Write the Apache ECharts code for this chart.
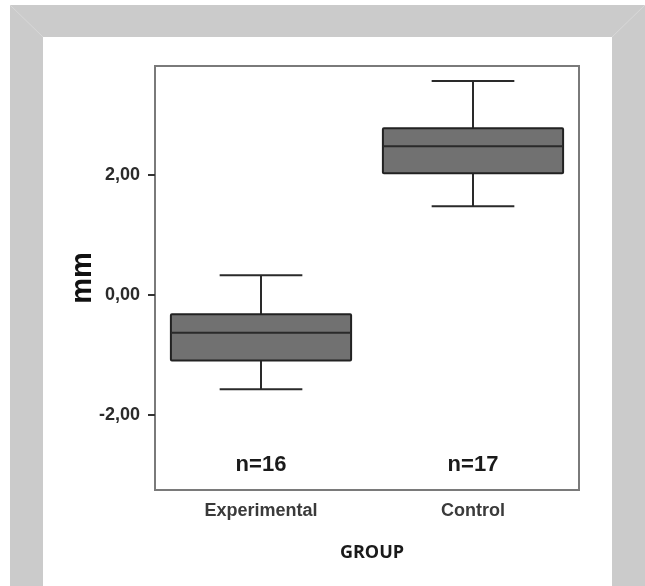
<!DOCTYPE html>
<html>
<head>
<meta charset="utf-8">
<script src="https://cdn.jsdelivr.net/npm/echarts@6/dist/echarts.min.js"></script>
<style>
  html, body { margin: 0; padding: 0; background: #fff; }
  #box-container { width: 645px; height: 586px; }
</style>
</head>
<body>
<div id="box-container"></div>
<script>
// values
const groups = ['Experimental', 'Control'];
const whiskerLow = [-1.57, 1.48];
const quartile1 = [-1.09, 2.03];
const medians = [-0.63, 2.48];
const quartile3 = [-0.32, 2.78];
const whiskerHigh = [0.33, 3.57];
const sampleSizes = ['n=16', 'n=17'];
const yTicks = [-2, 0, 2];

const boxData = groups.map((g, i) => [i, whiskerLow[i], quartile1[i], medians[i], quartile3[i], whiskerHigh[i]]);

const chartDom = document.getElementById('box-container');
const myChart = echarts.init(chartDom, null, { renderer: 'canvas' });

function renderBox(params, api) {
    const i = api.value(0);
    const low = api.coord([i, api.value(1)]);
    const q1 = api.coord([i, api.value(2)]);
    const med = api.coord([i, api.value(3)]);
    const q3 = api.coord([i, api.value(4)]);
    const high = api.coord([i, api.value(5)]);
    const band = api.size([1, 0])[0];
    const boxW = band * 0.85;
    const capW = band * 0.39;
    const cx = med[0];
    const lineStyle = { stroke: '#2a2a2a', lineWidth: 2 };
    const nPos = api.coord([i, -2.84]);
    return {
        type: 'group',
        children: [
            { type: 'line', shape: { x1: cx, y1: q3[1], x2: cx, y2: high[1] }, style: lineStyle },
            { type: 'line', shape: { x1: cx, y1: q1[1], x2: cx, y2: low[1] }, style: lineStyle },
            { type: 'line', shape: { x1: cx - capW / 2, y1: high[1], x2: cx + capW / 2, y2: high[1] }, style: lineStyle },
            { type: 'line', shape: { x1: cx - capW / 2, y1: low[1], x2: cx + capW / 2, y2: low[1] }, style: lineStyle },
            {
                type: 'rect',
                shape: { x: cx - boxW / 2, y: q3[1], width: boxW, height: q1[1] - q3[1], r: 1 },
                style: { fill: '#717171', stroke: '#222', lineWidth: 2 }
            },
            { type: 'line', shape: { x1: cx - boxW / 2, y1: med[1], x2: cx + boxW / 2, y2: med[1] }, style: lineStyle },
            {
                type: 'text',
                x: nPos[0], y: nPos[1],
                style: {
                    text: sampleSizes[i],
                    align: 'center', verticalAlign: 'middle',
                    font: 'bold 22px "Liberation Sans", Arial, sans-serif',
                    fill: '#1a1a1a'
                }
            }
        ]
    };
}

const options = {
    animation: false,
    graphic: [
        { type: 'rect', z: -10, shape: { x: 10, y: 5, width: 640, height: 600 }, style: { fill: '#cbcbcb' } },
        { type: 'rect', z: -9, shape: { x: 43, y: 37, width: 569, height: 560 }, style: { fill: '#ffffff' } },
        { type: 'line', z: -8, shape: { x1: 10, y1: 5, x2: 43, y2: 37 }, style: { stroke: '#d8d8d8', lineWidth: 1 } },
        { type: 'line', z: -8, shape: { x1: 645, y1: 5, x2: 612, y2: 37 }, style: { stroke: '#d8d8d8', lineWidth: 1 } }
    ],
    grid: { // 盒子的位置
        left: 155,
        right: 66,
        top: 66,
        bottom: 96,
        show: true,
        borderColor: '#7a7a7a',
        borderWidth: 2,
        backgroundColor: 'transparent'
    },
    xAxis: {
        type: 'category',
        data: groups,
        name: 'GROUP',
        nameLocation: 'middle',
        nameGap: 54,
        nameMoveOverlap: false,
        nameTextStyle: {
            fontFamily: '"Open Sans", sans-serif',
            fontWeight: 'bold',
            fontSize: 18,
            color: '#1a1a1a',
            padding: [0, 0, 0, 10]
        },
        axisLine: { show: false },
        axisTick: { alignWithLabel: true, length: 5, lineStyle: { color: '#333', width: 2 } },
        axisLabel: {
            margin: 12,
            fontFamily: '"Liberation Sans", Arial, sans-serif',
            fontSize: 18,
            fontWeight: 'bold',
            color: '#3a3a3a'
        }
    },
    yAxis: {
        type: 'value',
        min: -3.25,
        max: 3.82,
        name: 'mm',
        nameLocation: 'middle',
        nameGap: 58,
        nameMoveOverlap: false,
        nameTextStyle: {
            fontFamily: '"Liberation Sans", Arial, sans-serif',
            fontWeight: 'bold',
            fontSize: 29,
            color: '#111'
        },
        axisLine: { show: false },
        splitLine: { show: false },
        axisTick: {
            show: true,
            customValues: yTicks,
            length: 7,
            lineStyle: { color: '#333', width: 2 }
        },
        axisLabel: {
            customValues: yTicks,
            margin: 15,
            fontFamily: '"Liberation Sans", Arial, sans-serif',
            fontSize: 18,
            fontWeight: 'bold',
            color: '#2a2a2a',
            formatter: v => v.toFixed(2).replace('.', ',')
        }
    },
    series: [
        {
            type: 'custom',
            renderItem: renderBox,
            data: boxData,
            encode: { x: 0, y: [1, 2, 3, 4, 5] }
        }
    ]
};

myChart.setOption(options);
</script>
</body>
</html>
